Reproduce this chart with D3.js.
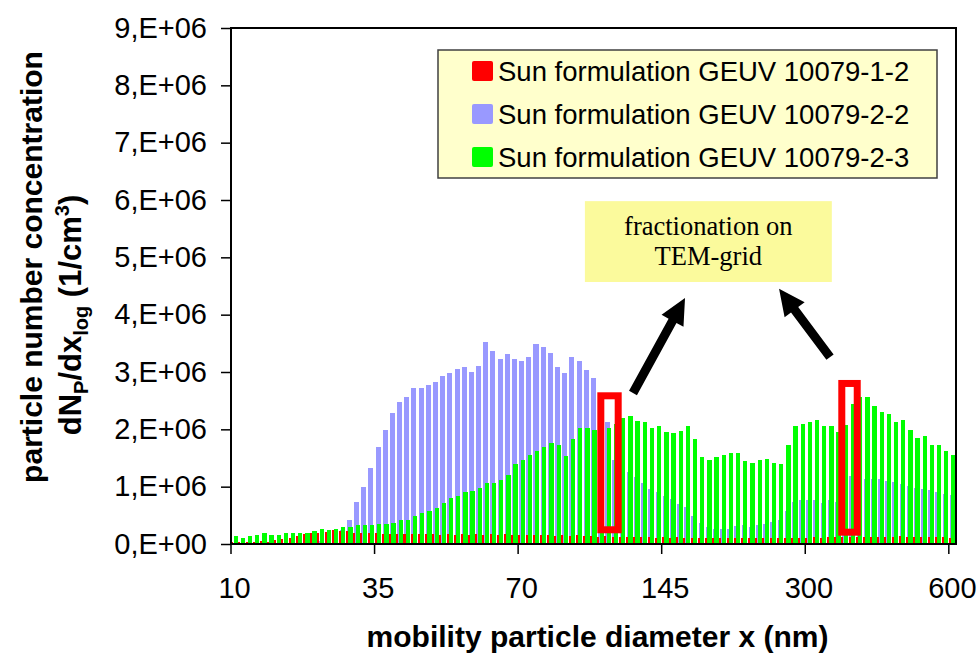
<!DOCTYPE html>
<html>
<head>
<meta charset="utf-8">
<script src="https://cdn.jsdelivr.net/npm/d3@7"></script>
<style>
  body { margin: 0; background: #fff; }
  svg { display: block; }
</style>
</head>
<body>
<svg id="chart" width="980" height="653"></svg>
<script>
// SMPS size channels (category axis), labelled every 20 channels
const channels = [
  1,2,3,4,5,6,7,8,9,10,11,12,13,14,15,16,17,18,19,20,
  21,22,23,24,25,26,27,28,29,30,31,32,33,34,35,36,37,38,39,40,
  41,42,43,44,45,46,47,48,49,50,51,52,53,54,55,56,57,58,59,60,
  61,62,63,64,65,66,67,68,69,70,71,72,73,74,75,76,77,78,79,80,
  81,82,83,84,85,86,87,88,89,90,91,92,93,94,95,96,97,98,99,100,101
];
const xTickChannels = [1, 21, 41, 61, 81, 101];
const xTickLabels = ["10", "35", "70", "145", "300", "600"];

const yTickValues = [0, 1e6, 2e6, 3e6, 4e6, 5e6, 6e6, 7e6, 8e6, 9e6];
const yTickLabels = ["0,E+00", "1,E+06", "2,E+06", "3,E+06", "4,E+06",
                     "5,E+06", "6,E+06", "7,E+06", "8,E+06", "9,E+06"];

const seriesNames = [
  "Sun formulation GEUV 10079-1-2",
  "Sun formulation GEUV 10079-2-2",
  "Sun formulation GEUV 10079-2-3"
];
const seriesColors = ["#ff0000", "#9999ff", "#00ff00"];

// dN/dlog x in units of 1e6 per cm³
const unit = 1e6;
const geuv_1_2 = [
  0.03,0.04,0.03,0.04,0.05,0.04,0.07,0.09,0.11,0.14,
  0.17,0.19,0.20,0.21,0.24,0.23,0.22,0.20,0.20,0.19,
  0.19,0.18,0.18,0.18,0.17,0.18,0.17,0.18,0.17,0.16,
  0.17,0.16,0.17,0.16,0.17,0.16,0.17,0.16,0.17,0.16,
  0.15,0.16,0.15,0.16,0.15,0.14,0.15,0.14,0.15,0.14,
  0.14,0.13,0.14,0.13,0.13,0.12,0.13,0.12,0.12,0.11,
  0.12,0.11,0.12,0.11,0.10,0.11,0.10,0.11,0.10,0.10,
  0.10,0.11,0.10,0.10,0.11,0.10,0.10,0.11,0.10,0.11,
  0.11,0.12,0.11,0.12,0.12,0.13,0.12,0.13,0.12,0.13,
  0.12,0.13,0.12,0.14,0.12,0.13,0.12,0.13,0.12,0.12,
  0.11
];
const geuv_2_2 = [
  0.00,0.01,0.01,0.01,0.02,0.01,0.02,0.02,0.03,0.03,
  0.03,0.04,0.05,0.06,0.12,0.24,0.42,0.73,1.00,1.32,
  1.70,1.98,2.28,2.48,2.57,2.72,2.72,2.78,2.83,2.93,
  2.98,3.06,3.09,3.00,3.11,3.53,3.37,3.23,3.31,3.23,
  3.19,3.26,3.49,3.44,3.34,3.08,2.98,3.26,3.20,3.03,
  2.90,2.60,2.13,1.47,1.35,1.26,1.17,1.06,0.96,0.91,
  0.83,0.78,0.70,0.65,0.48,0.36,0.30,0.27,0.27,0.27,
  0.31,0.33,0.30,0.33,0.35,0.39,0.42,0.58,0.74,0.77,
  0.77,0.77,0.72,0.77,0.74,0.95,1.19,1.12,1.13,1.13,
  1.13,1.10,1.09,1.05,1.02,0.97,0.96,0.94,0.90,0.88,
  0.85
];
const geuv_2_3 = [
  0.14,0.11,0.14,0.16,0.19,0.16,0.16,0.19,0.20,0.20,
  0.20,0.23,0.27,0.24,0.27,0.30,0.29,0.34,0.33,0.34,
  0.35,0.35,0.37,0.41,0.42,0.49,0.54,0.58,0.62,0.71,
  0.81,0.83,0.91,0.92,0.97,1.06,1.07,1.12,1.20,1.40,
  1.47,1.55,1.62,1.70,1.76,1.72,1.53,1.83,2.02,2.02,
  1.99,2.00,2.02,2.10,2.19,2.23,2.15,2.13,2.03,2.06,
  1.96,1.93,1.97,2.05,1.83,1.51,1.47,1.51,1.55,1.58,
  1.58,1.45,1.41,1.47,1.48,1.41,1.39,1.72,2.05,2.09,
  2.13,2.16,2.05,2.05,1.95,2.08,2.45,2.56,2.57,2.40,
  2.30,2.27,2.13,2.16,1.99,1.85,1.88,1.72,1.72,1.62,
  1.55
];
const seriesValues = [geuv_1_2, geuv_2_2, geuv_2_3];

// Highlighted channels (fractionation on TEM grid) and the callout
const highlights = [
  { c0: 51.52, c1: 53.94, v0: 0.248, v1: 2.585 },
  { c0: 85.09, c1: 87.24, v0: 0.206, v1: 2.80 }
];
const arrows = [
  { c0: 56.0, v0: 2.634, c1: 63.25, v1: 4.29 },
  { c0: 83.45, v0: 3.26, c1: 76.35, v1: 4.45 }
];
const note = { c0: 49.3, c1: 83.7, v0: 4.57, v1: 5.98,
               lines: ["fractionation on", "TEM-grid"] };

// ---- layout ----
const plot = { left: 231, right: 956, top: 28, bottom: 544 };
const svg = d3.select("#chart");
const sans = "'Liberation Sans', Arial, sans-serif";
const serif = "'Liberation Serif', 'Times New Roman', serif";

const x = d3.scaleBand().domain(channels).range([plot.left, plot.right]).padding(0);
const bw = x.bandwidth();
// fractional channel position, for annotations
const cpos = d3.scaleLinear().domain([0, channels.length]).range([plot.left, plot.right]);
const y = d3.scaleLinear().domain([0, 9e6]).range([plot.bottom, plot.top]);

// bar placement inside each channel: [start, end] as a fraction of the band
const barSlots = [[0.03, 0.31], [0.14, 0.84], [0.35, 0.95]];
const drawOrder = [1, 0, 2];

const bars = svg.append("g").attr("shape-rendering", "crispEdges");
drawOrder.forEach(s => {
  bars.append("g")
    .attr("fill", seriesColors[s])
    .selectAll("rect")
    .data(seriesValues[s])
    .join("rect")
    .attr("x", (d, i) => x(channels[i]) + barSlots[s][0] * bw)
    .attr("width", (barSlots[s][1] - barSlots[s][0]) * bw)
    .attr("y", d => y(d * unit))
    .attr("height", d => y(0) - y(d * unit));
});

// plot frame
svg.append("rect")
  .attr("x", plot.left).attr("y", plot.top)
  .attr("width", plot.right - plot.left).attr("height", plot.bottom - plot.top)
  .attr("fill", "none").attr("stroke", "#000").attr("stroke-width", 2);

// y axis
const yAxis = d3.axisLeft(y)
  .tickValues(yTickValues)
  .tickFormat((d, i) => yTickLabels[i])
  .tickSize(10).tickPadding(14);
const gy = svg.append("g").attr("transform", `translate(${plot.left},0)`).call(yAxis);
gy.select(".domain").remove();
gy.selectAll(".tick line").attr("stroke", "#000").attr("stroke-width", 1.5);
gy.selectAll(".tick text").attr("font-family", sans).attr("font-size", 29).attr("fill", "#000");

// x axis: ticks on channel boundaries, labels centred on channels
const gx = svg.append("g").attr("transform", `translate(0,${plot.bottom})`);
gx.selectAll("line").data(xTickChannels).join("line")
  .attr("x1", d => x(d)).attr("x2", d => x(d))
  .attr("y1", 0).attr("y2", 10)
  .attr("stroke", "#000").attr("stroke-width", 1.5);
gx.selectAll("text").data(xTickChannels).join("text")
  .attr("x", d => x(d) + bw / 2)
  .attr("y", 54)
  .attr("text-anchor", "middle")
  .attr("font-family", sans).attr("font-size", 29)
  .text((d, i) => xTickLabels[i]);

// axis titles
svg.append("text")
  .attr("x", (plot.left + plot.right) / 2 + 4).attr("y", 647)
  .attr("text-anchor", "middle")
  .attr("font-family", sans).attr("font-size", 30).attr("font-weight", "bold")
  .text("mobility particle diameter x (nm)");

svg.append("text")
  .attr("transform", "translate(42,267) rotate(-90)")
  .attr("text-anchor", "middle")
  .attr("font-family", sans).attr("font-size", 30).attr("font-weight", "bold")
  .text("particle number concentration");

const t2 = svg.append("text")
  .attr("transform", "translate(81,315) rotate(-90)")
  .attr("text-anchor", "middle")
  .attr("font-family", sans).attr("font-size", 31).attr("font-weight", "bold");
t2.append("tspan").text("dN");
t2.append("tspan").attr("font-size", 20).attr("dy", 7).text("P");
t2.append("tspan").attr("dy", -7).text("/dx");
t2.append("tspan").attr("font-size", 20).attr("dy", 7).text("log");
t2.append("tspan").attr("dy", -7).text(" (1/cm");
t2.append("tspan").attr("font-size", 20).attr("dy", -12).text("3");
t2.append("tspan").attr("dy", 12).text(")");

// legend
const lg = svg.append("g");
lg.append("rect")
  .attr("x", 438).attr("y", 50).attr("width", 499).attr("height", 128)
  .attr("fill", "#ffffcc").attr("stroke", "#404040").attr("stroke-width", 1.5);
seriesNames.forEach((name, i) => {
  const cy = 71 + i * 43;
  lg.append("rect")
    .attr("x", 472).attr("y", cy - 10).attr("width", 21).attr("height", 20)
    .attr("rx", 2).attr("fill", seriesColors[i]);
  lg.append("text")
    .attr("x", 498).attr("y", cy + 10)
    .attr("font-family", sans).attr("font-size", 27.5)
    .text(name);
});

// callout box
const nb = svg.append("g");
nb.append("rect")
  .attr("x", cpos(note.c0)).attr("y", y(note.v1 * unit))
  .attr("width", cpos(note.c1) - cpos(note.c0))
  .attr("height", y(note.v0 * unit) - y(note.v1 * unit))
  .attr("fill", "#fbfa9c");
note.lines.forEach((t, i) => {
  nb.append("text")
    .attr("x", (cpos(note.c0) + cpos(note.c1)) / 2)
    .attr("y", 235 + i * 29.5)
    .attr("text-anchor", "middle")
    .attr("font-family", serif).attr("font-size", 26.5)
    .text(t);
});

// arrows
function arrowPoints(x0, y0, x1, y1, shaft, headLen, headW) {
  const dx = x1 - x0, dy = y1 - y0, L = Math.hypot(dx, dy);
  const ux = dx / L, uy = dy / L, px = -uy, py = ux;
  const bx = x1 - ux * headLen, by = y1 - uy * headLen;
  const h = shaft / 2, w = headW / 2;
  return [
    [x0 + px * h, y0 + py * h], [bx + px * h, by + py * h], [bx + px * w, by + py * w],
    [x1, y1],
    [bx - px * w, by - py * w], [bx - px * h, by - py * h], [x0 - px * h, y0 - py * h]
  ];
}
svg.append("g").selectAll("polygon").data(arrows).join("polygon")
  .attr("points", a => arrowPoints(cpos(a.c0), y(a.v0 * unit), cpos(a.c1), y(a.v1 * unit), 9, 26, 25)
    .map(p => p.join(",")).join(" "))
  .attr("fill", "#000");

// highlighted channels
svg.append("g").selectAll("rect").data(highlights).join("rect")
  .attr("x", h => cpos(h.c0)).attr("y", h => y(h.v1 * unit))
  .attr("width", h => cpos(h.c1) - cpos(h.c0))
  .attr("height", h => y(h.v0 * unit) - y(h.v1 * unit))
  .attr("fill", "none").attr("stroke", "#ff0000").attr("stroke-width", 7);
</script>
</body>
</html>
